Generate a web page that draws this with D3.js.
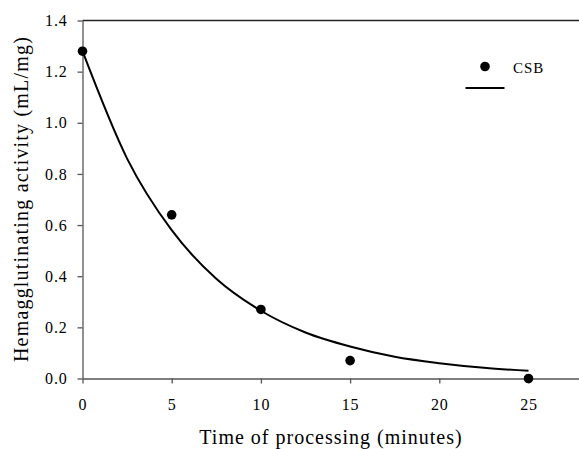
<!DOCTYPE html>
<html>
<head>
<meta charset="utf-8">
<script src="https://cdn.jsdelivr.net/npm/d3@7"></script>
<style>
  body { margin: 0; background: #fff; }
  svg { display: block; }
  .axis text { font-family: "Liberation Serif", "Times New Roman", serif; font-size: 16px; letter-spacing: 0.8px; fill: #000; }
  .axis path, .axis line { stroke: #555; stroke-width: 1.3; }
</style>
</head>
<body>
<svg id="chart"></svg>
<script>
// measured points
const times = [0, 5, 10, 15, 25];
const activity = [1.28, 0.64, 0.27, 0.07, 0.0];

// fitted curve, every 2.5 min
const curveTimes = [0, 2.5, 5, 7.5, 10, 12.5, 15, 17.5, 20, 22.5, 25];
const curveActivity = [1.28, 0.86, 0.58, 0.39, 0.265, 0.18, 0.125, 0.085, 0.06, 0.042, 0.03];

const xTicks = [0, 5, 10, 15, 20, 25];
const yTicks = [0, 0.2, 0.4, 0.6, 0.8, 1.0, 1.2, 1.4];
const seriesName = 'CSB';

const width = 579, height = 449;
const plotLeft = 82.5, plotTop = 20.5, plotBottom = 378.5;
const serif = '"Liberation Serif", "Times New Roman", serif';

const svg = d3.select('#chart').attr('width', width).attr('height', height);

const x = d3.scaleLinear().domain([0, 28]).range([plotLeft, plotLeft + 28 * 17.84]);
const y = d3.scaleLinear().domain([0, 1.4]).range([plotBottom, plotTop]);

// top border
svg.append('line')
  .attr('x1', plotLeft).attr('x2', width)
  .attr('y1', plotTop).attr('y2', plotTop)
  .attr('stroke', '#222').attr('stroke-width', 1.3);

svg.append('g')
  .attr('class', 'axis')
  .attr('transform', `translate(0,${plotBottom})`)
  .call(d3.axisBottom(x).tickValues(xTicks).tickSize(5).tickSizeOuter(0).tickPadding(15).tickFormat(d3.format('d')));

svg.append('g')
  .attr('class', 'axis')
  .attr('transform', `translate(${plotLeft},0)`)
  .call(d3.axisLeft(y).tickValues(yTicks).tickSize(5).tickSizeOuter(0).tickPadding(10).tickFormat(d3.format('.1f')));

// fitted line
const line = d3.line()
  .x((d, i) => x(curveTimes[i]))
  .y(d => y(d))
  .curve(d3.curveMonotoneX);

svg.append('path')
  .datum(curveActivity)
  .attr('d', line)
  .attr('fill', 'none')
  .attr('stroke', '#000')
  .attr('stroke-width', 2);

svg.selectAll('circle.pt')
  .data(times)
  .join('circle')
  .attr('class', 'pt')
  .attr('cx', d => x(d))
  .attr('cy', (d, i) => y(activity[i]))
  .attr('r', 4.8)
  .attr('fill', '#000');

// legend
const lg = svg.append('g');
lg.append('circle').attr('cx', 485).attr('cy', 66.5).attr('r', 4.8).attr('fill', '#000');
lg.append('text').attr('x', 513).attr('y', 72.5)
  .attr('font-family', serif).attr('font-size', 15)
  .attr('letter-spacing', 1).text(seriesName);
lg.append('line').attr('x1', 465.5).attr('x2', 504.5).attr('y1', 88).attr('y2', 88)
  .attr('stroke', '#000').attr('stroke-width', 2);

// axis titles
svg.append('text')
  .attr('x', 331).attr('y', 444)
  .attr('text-anchor', 'middle')
  .attr('font-family', serif).attr('font-size', 20)
  .attr('letter-spacing', 1)
  .text('Time of processing (minutes)');

svg.append('text')
  .attr('transform', 'translate(28,199) rotate(-90)')
  .attr('text-anchor', 'middle')
  .attr('font-family', serif).attr('font-size', 20)
  .attr('letter-spacing', 1.2)
  .text('Hemagglutinating activity (mL/mg)');
</script>
</body>
</html>
